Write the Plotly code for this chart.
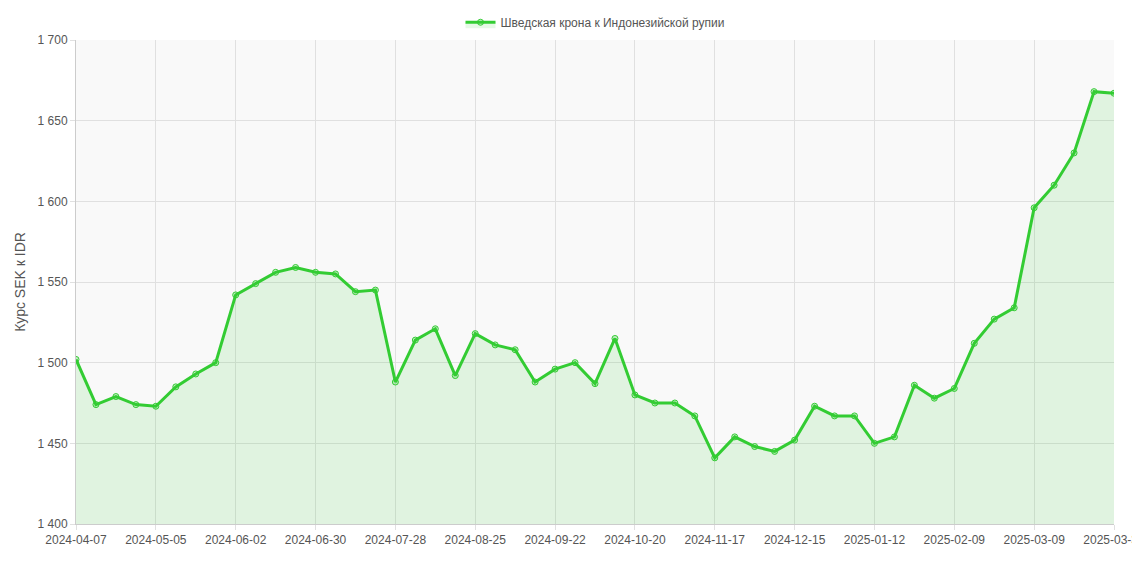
import datetime as dt
import plotly.graph_objects as go

start = dt.date(2024, 4, 7)
dates = [(start + dt.timedelta(weeks=i)).isoformat() for i in range(52)] + ["2025-03-31"]
values = [1502, 1474, 1479, 1474, 1473, 1485, 1493, 1500, 1542, 1549, 1556, 1559, 1556, 1555,
          1544, 1545, 1488, 1514, 1521, 1492, 1518, 1511, 1508, 1488, 1496, 1500, 1487, 1515,
          1480, 1475, 1475, 1467, 1441, 1454, 1448, 1445, 1452, 1473, 1467, 1467, 1450, 1454,
          1486, 1478, 1484, 1512, 1527, 1534, 1596, 1610, 1630, 1668, 1667]
series_name = "Шведская крона к Индонезийской рупии"
tick_labels = dates[::4] + [dates[-1]]

fig = go.Figure(go.Scatter(
    x=dates, y=values, name=series_name, mode="lines+markers",
    line=dict(color="#33cc33", width=3),
    marker=dict(size=6, color="rgba(51,204,51,0.25)", line=dict(color="#33cc33", width=1)),
    fill="tozeroy", fillcolor="rgba(51,204,51,0.12)",
))
fig.update_layout(
    width=1140, height=570, separators=", ",
    paper_bgcolor="#ffffff", plot_bgcolor="#f9f9f9",
    margin=dict(l=68, r=34, t=32, b=54, autoexpand=False),
    font=dict(family="Liberation Sans, Arial", size=12, color="#555"),
    showlegend=True,
    legend=dict(orientation="h", x=0.5, xanchor="center", yref="container", y=0.975, yanchor="middle"),
    xaxis=dict(type="category", tickvals=tick_labels, ticktext=tick_labels, tickangle=0,
               showgrid=True, gridcolor="#e0e0e0", linecolor="#ccc", range=[0, 52],
               ticks="outside", tickcolor="#e0e0e0", automargin=False),
    yaxis=dict(range=[1400, 1700], dtick=50, tickformat=",d", showgrid=True, gridcolor="#e0e0e0",
               title=dict(text="Курс SEK к IDR", font=dict(size=14), standoff=8), linecolor="#ccc",
               ticks="outside", tickcolor="#e0e0e0", automargin=False),
)
fig.write_html("out.html")
